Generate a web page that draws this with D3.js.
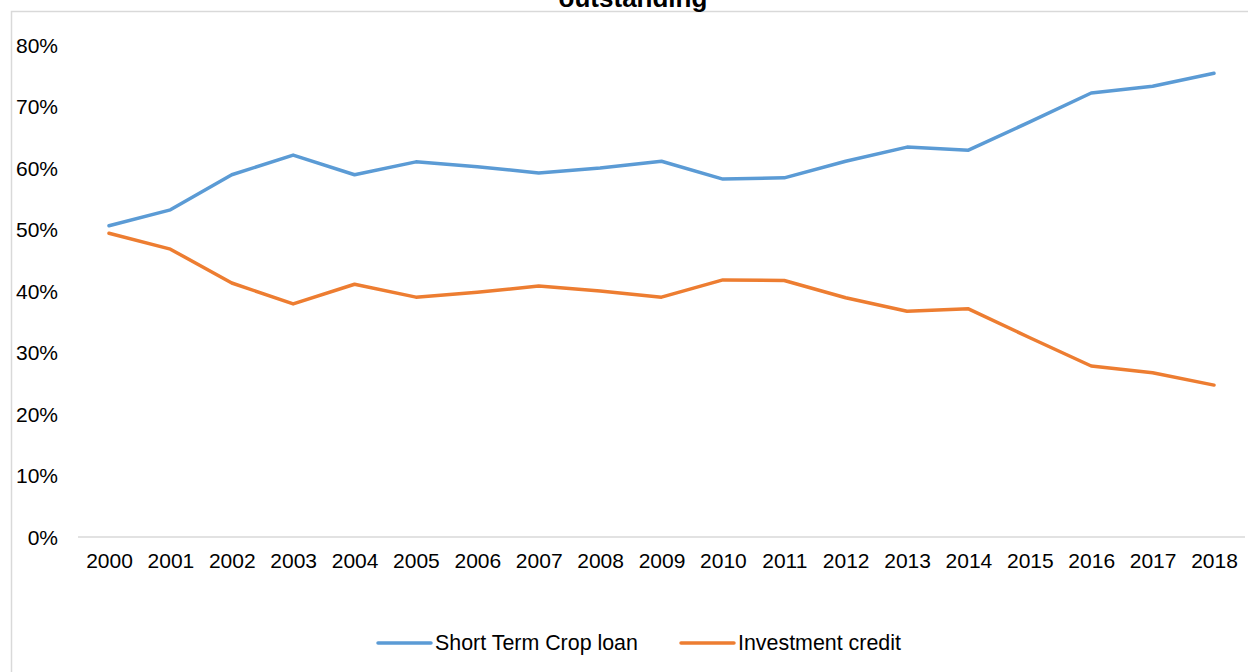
<!DOCTYPE html>
<html><head><meta charset="utf-8">
<script src="https://cdn.jsdelivr.net/npm/d3@7"></script>
<style>html,body{margin:0;padding:0;background:#fff;overflow:hidden}</style>
</head><body>
<svg id="c" width="1248" height="672"></svg>
<script>
const years = ["2000","2001","2002","2003","2004","2005","2006","2007","2008","2009","2010","2011","2012","2013","2014","2015","2016","2017","2018"];
const shortTerm = [50.6,53.2,58.9,62.1,58.9,61.0,60.2,59.2,60.0,61.1,58.2,58.4,61.1,63.4,62.9,67.5,72.2,73.3,75.4];
const investment = [49.4,46.8,41.3,37.9,41.1,39.0,39.8,40.8,40.0,39.0,41.8,41.7,38.9,36.7,37.1,32.4,27.8,26.7,24.7];
const yTicks = [0,10,20,30,40,50,60,70,80];
const seriesNames = ["Short Term Crop loan","Investment credit"];
const colors = ["#5B9BD5","#ED7D31"];

const svg = d3.select("#c");
const font = "'Liberation Sans', Arial, sans-serif";
svg.append("rect").attr("x",11.5).attr("y",11.5).attr("width",1300).attr("height",700)
  .attr("fill","#fff").attr("stroke","#d9d9d9").attr("stroke-width",1.5);

svg.append("text").attr("x",633).attr("y",7).attr("text-anchor","middle")
  .attr("font-family",font).attr("font-weight","bold").attr("font-size",26).attr("fill","#000")
  .text("outstanding");

const x = d3.scalePoint().domain(years).range([109,1214]);
const y = d3.scaleLinear().domain([0,80]).range([537,45]);

// baseline
svg.append("line").attr("x1",78).attr("x2",1245).attr("y1",y(0)).attr("y2",y(0))
  .attr("stroke","#d9d9d9").attr("stroke-width",1.5);

const yAxis = svg.append("g").attr("transform","translate(58,0)")
  .call(d3.axisLeft(y).tickValues(yTicks).tickFormat(d=>d+"%").tickSize(0).tickPadding(0));
yAxis.select(".domain").remove();
yAxis.selectAll("text").attr("font-family",font).attr("font-size",21).attr("fill","#000").attr("dy","0.35em");

const xAxis = svg.append("g").attr("transform",`translate(0,${y(0)})`)
  .call(d3.axisBottom(x).tickSize(0).tickPadding(16));
xAxis.select(".domain").remove();
xAxis.selectAll("text").attr("font-family",font).attr("font-size",21).attr("fill","#000");

const line = d3.line().x((d,i)=>x(years[i])).y(d=>y(d));
[shortTerm, investment].forEach((s,k)=>{
  svg.append("path").datum(s).attr("d",line).attr("fill","none")
    .attr("stroke",colors[k]).attr("stroke-width",3.5).attr("stroke-linejoin","round").attr("stroke-linecap","round");
});

const legX = [378, 681];
seriesNames.forEach((n,k)=>{
  svg.append("line").attr("x1",legX[k]).attr("x2",legX[k]+53).attr("y1",643).attr("y2",643)
    .attr("stroke",colors[k]).attr("stroke-width",3.5).attr("stroke-linecap","round");
  svg.append("text").attr("x",legX[k]+57).attr("y",643).attr("dy","0.35em")
    .attr("font-family",font).attr("font-size",21.4).attr("fill","#000").text(n);
});
</script>
</body></html>
